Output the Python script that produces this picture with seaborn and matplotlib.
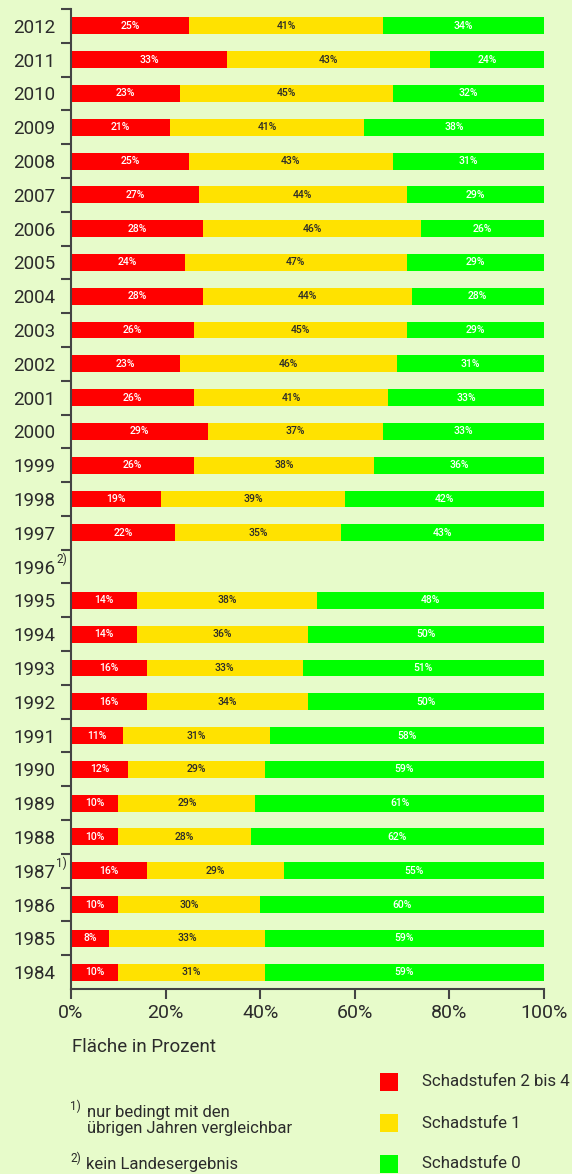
import numpy as np
import pandas as pd
import matplotlib
matplotlib.use("Agg")
import matplotlib.pyplot as plt
import seaborn as sns
from matplotlib.patches import Rectangle

# data (1996: no state result)
years = ['2012', '2011', '2010', '2009', '2008', '2007', '2006', '2005', '2004', '2003',
         '2002', '2001', '2000', '1999', '1998', '1997', '1996', '1995', '1994', '1993',
         '1992', '1991', '1990', '1989', '1988', '1987', '1986', '1985', '1984']
stufe_2_4 = [25, 33, 23, 21, 25, 27, 28, 24, 28, 26, 23, 26, 29, 26, 19, 22, np.nan,
             14, 14, 16, 16, 11, 12, 10, 10, 16, 10, 8, 10]
stufe_1 = [41, 43, 45, 41, 43, 44, 46, 47, 44, 45, 46, 41, 37, 38, 39, 35, np.nan,
           38, 36, 33, 34, 31, 29, 29, 28, 29, 30, 33, 31]
stufe_0 = [34, 24, 32, 38, 31, 29, 26, 29, 28, 29, 31, 33, 33, 36, 42, 43, np.nan,
           48, 50, 51, 50, 58, 59, 61, 62, 55, 60, 59, 59]
footnotes = {'1996': '2)', '1987': '1)'}

bg = '#E7FBCA'
red, yellow, green = '#FF0000', '#FFE200', '#00FF00'
dark = '#2B2B2B'

df = pd.DataFrame({'year': years, 'r': stufe_2_4, 'y': stufe_1, 'g': stufe_0}).dropna()
df['ry'] = df['r'] + df['y']
df['total'] = 100.0  # stacked shares always fill the bar

plt.rcParams['font.family'] = ['Roboto', 'DejaVu Sans']
fig = plt.figure(figsize=(5.72, 11.74), dpi=100, facecolor=bg)
ax = fig.add_axes([71/572, 1-989/1174, 473/572, 980/1174])
ax.set_facecolor(bg)

kw = dict(orient='h', order=years, width=0.5, linewidth=0, ax=ax, errorbar=None)
sns.barplot(data=df, x='total', y='year', color=green, saturation=1, **kw)
sns.barplot(data=df, x='ry', y='year', color=yellow, saturation=1, **kw)
sns.barplot(data=df, x='r', y='year', color=red, saturation=1, **kw)

pos = {y: i for i, y in enumerate(years)}
for _, row in df.iterrows():
    i = pos[row['year']]
    ax.text(row['r']/2, i, f"{row['r']:.0f}%", ha='center', va='center',
            color='white', fontsize=7.5, fontweight='medium')
    ax.text(row['r'] + row['y']/2, i, f"{row['y']:.0f}%", ha='center', va='center',
            color=dark, fontsize=7.5, fontweight='medium')
    ax.text(row['ry'] + (100 - row['ry'])/2, i, f"{row['g']:.0f}%", ha='center',
            va='center', color='white', fontsize=7.5, fontweight='medium')

ax.set_xlim(0, 100)
ax.set_ylim(len(years) - 0.5, -0.5)
ax.set_xticks([0, 20, 40, 60, 80, 100])
ax.set_xticklabels(['0%', '20%', '40%', '60%', '80%', '100%'], fontsize=14, color=dark)
ax.set_yticks(range(len(years)))
ax.set_yticklabels(years, fontsize=13.5, color=dark)
ax.set_yticks(np.arange(len(years)) - 0.5, minor=True)
ax.tick_params(axis='y', which='major', length=0, pad=11)
ax.tick_params(axis='y', which='minor', length=7, width=1.5, color='#444444')
ax.tick_params(axis='x', length=7, width=1.5, color='#444444', pad=4)
for s in ['top', 'right']:
    ax.spines[s].set_visible(False)
for s in ['left', 'bottom']:
    ax.spines[s].set_linewidth(1.5)
    ax.spines[s].set_color('#444444')
ax.set_xlabel('')
ax.set_ylabel('')

# footnote marks on year labels
for y, mark in footnotes.items():
    ax.annotate(mark, xy=(0, pos[y]), xycoords=('axes fraction', 'data'),
                xytext=(-10.5, 5), textcoords='offset points', fontsize=8.5,
                color=dark, ha='left', va='center')

fig.text(72/572, 1-1047/1174, 'Fläche in Prozent', fontsize=13.5, color=dark,
         va='center', ha='left')

# legend
leg_items = [('Schadstufen 2 bis 4', red, 1082), ('Schadstufe 1', yellow, 1123),
             ('Schadstufe 0', green, 1164)]
for label, c, yc in leg_items:
    fig.patches.append(Rectangle((380/572, 1-(yc+9)/1174), 18/572, 18/1174,
                                 transform=fig.transFigure, facecolor=c, edgecolor='none'))
    fig.text(422/572, 1-yc/1174, label, fontsize=12.2, color=dark, va='center', ha='left')

# footnotes
fig.text(70/572, 1-1106/1174, '1)', fontsize=8.5, color=dark, va='center')
fig.text(87/572, 1-1113/1174, 'nur bedingt mit den', fontsize=12, color=dark, va='center')
fig.text(87/572, 1-1129/1174, 'übrigen Jahren vergleichbar', fontsize=12, color=dark, va='center')
fig.text(70/572, 1-1158/1174, '2)', fontsize=8.5, color=dark, va='center')
fig.text(86/572, 1-1164/1174, 'kein Landesergebnis', fontsize=12, color=dark, va='center')

fig.savefig('out.png', dpi=100, facecolor=bg)
